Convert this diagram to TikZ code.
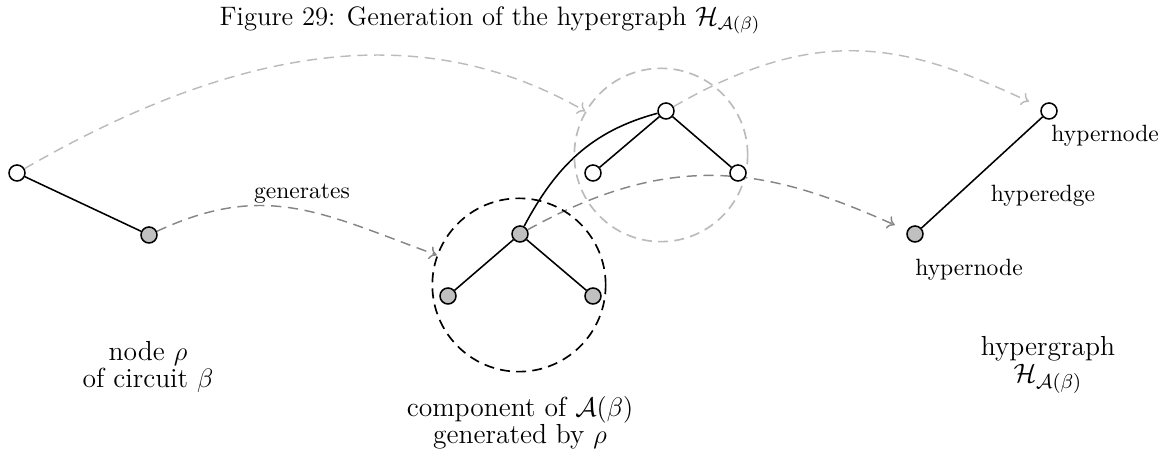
\documentclass[tikz,border=0pt]{standalone}
\usepackage{amsmath}
\usetikzlibrary{backgrounds,arrows.meta}
\definecolor{lightg}{HTML}{BBBBBB}
\definecolor{midg}{HTML}{858585}
\definecolor{nodegray}{HTML}{C0C0C0}
\tikzset{
  vnode/.style={circle,draw=black,line width=0.7pt,minimum size=7.2pt,inner sep=0pt,fill=white},
  gnode/.style={vnode,fill=nodegray},
  ring/.style={circle,line width=0.75pt,minimum size=78pt,inner sep=0pt,dash pattern=on 4.5pt off 2.8pt},
  edgeline/.style={line width=0.7pt,black},
  lightarrow/.style={-{To[length=3.2pt,width=6pt]},draw=lightg,line width=0.65pt,dash pattern=on 4.6pt off 3pt},
  midarrow/.style={-{To[length=3.2pt,width=6pt]},draw=midg,line width=0.65pt,dash pattern=on 4.6pt off 3pt},
  titletext/.style={font=\fontsize{12}{14}\selectfont,inner sep=0pt},
  biglabel/.style={align=center,font=\fontsize{12.4}{12.2}\selectfont,inner sep=0pt},
  smalllabel/.style={font=\fontsize{10.6}{12}\selectfont,inner sep=0pt}
}
\begin{document}
\begin{tikzpicture}[x=0.45pt,y=0.45pt]
\useasboundingbox (0,0) rectangle (1172,-461);
\node[titletext] (title) at (490,-20) {Figure 29: Generation of the hypergraph $\mathcal{H}_{\mathcal{A}(\beta)}$};
% rings
\node[ring,draw=black] (C1) at (519,-285) {};
\node[ring,draw=lightg] (C2) at (661,-155) {};
% nodes
\node[vnode] (A) at (17,-173) {};
\node[gnode] (B) at (149,-235) {};
\node[gnode] (t1) at (520,-234) {};
\node[gnode] (l1) at (448,-296) {};
\node[gnode] (r1) at (593,-296) {};
\node[vnode] (t2) at (666,-111) {};
\node[vnode] (l2) at (593,-173) {};
\node[vnode] (r2) at (738,-173) {};
\node[gnode] (H1) at (915,-234) {};
\node[vnode] (H2) at (1049,-111) {};
% labels
\node[biglabel] (lab1) at (148,-367) {node $\rho$\\of circuit $\beta$};
\node[biglabel] (lab2) at (520,-423) {component of $\mathcal{A}(\beta)$\\generated by $\rho$};
\node[biglabel] (lab3) at (1048,-365) {hypergraph\\$\mathcal{H}_{\mathcal{A}(\beta)}$};
\node[smalllabel] (gen) at (302,-194) {generates};
\node[smalllabel,anchor=west] (hn2) at (1051,-136) {hypernode};
\node[smalllabel] (hn1) at (969,-270) {hypernode};
\node[smalllabel] (he) at (1043,-196) {hyperedge};
\begin{scope}[on background layer]
  \draw[edgeline] (A) -- (B);
  \draw[edgeline] (t1) -- (l1);
  \draw[edgeline] (t1) -- (r1);
  \draw[edgeline] (t2) -- (l2);
  \draw[edgeline] (t2) -- (r2);
  \draw[edgeline] (H1) -- (H2);
  \draw[edgeline] (t1) to[out=62,in=195] (t2);
  \draw[lightarrow] (A) to[out=30,in=150,out looseness=1.2,in looseness=0.8] (C2);
  \draw[lightarrow,shorten >=6pt] (t2) to[out=30,in=155,out looseness=1.2] (H2);
  \draw[midarrow] (B) to[out=25,in=160,looseness=1.1] (C1);
  \draw[midarrow,shorten >=6pt] (t1) to[out=29,in=156,out looseness=1.15] (H1);
\end{scope}
\end{tikzpicture}
\end{document}
